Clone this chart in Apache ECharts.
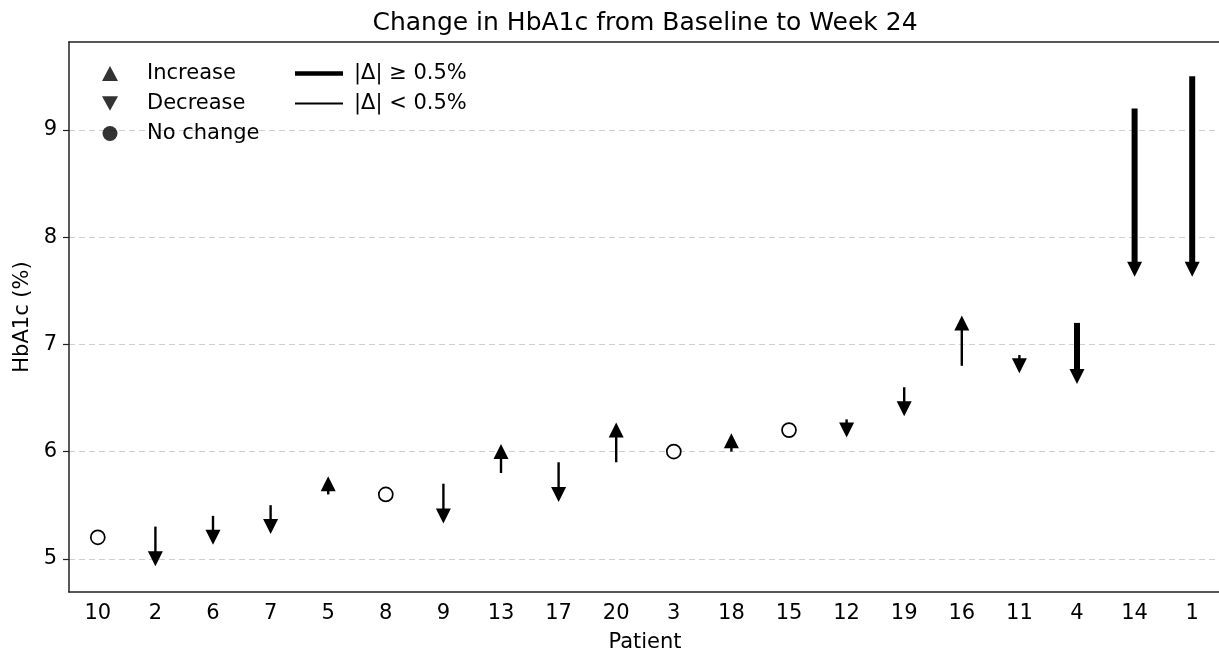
<!DOCTYPE html>
<html>
<head>
<meta charset="utf-8">
<script src="https://cdn.jsdelivr.net/npm/echarts@6/dist/echarts.min.js"></script>
<style>
  html, body { margin: 0; padding: 0; background: #fff; }
  #chart { width: 1219px; height: 654px; }
</style>
</head>
<body>
<div id="chart"></div>
<script>
// ---- data ----
const patients = ['10','2','6','7','5','8','9','13','17','20','3','18','15','12','19','16','11','4','14','1'];
const baseline = [5.2,5.3,5.4,5.5,5.6,5.6,5.7,5.8,5.9,5.9,6.0,6.0,6.2,6.3,6.6,6.8,6.9,7.2,9.2,9.5];
const week24   = [5.2,5.0,5.2,5.3,5.7,5.6,5.4,6.0,5.6,6.2,6.0,6.1,6.2,6.2,6.4,7.2,6.8,6.7,7.7,7.7];
const yTicks = [5, 6, 7, 8, 9];
const threshold = 0.5;

const FONT = 'DejaVu Sans';
const chart = echarts.init(document.getElementById('chart'), null, { renderer: 'canvas' });

const arrowData = patients.map((p, i) => [i, baseline[i], week24[i]]);
const downTri = 'path://M0,0 L2,0 L1,1.8 Z';

const option = {
  backgroundColor: '#ffffff',
  animation: false,
  title: {
    text: 'Change in HbA1c from Baseline to Week 24',
    left: 645, textAlign: 'center', top: 11, padding: 0,
    textStyle: { fontFamily: FONT, fontSize: 25, fontWeight: 'normal', color: '#000' }
  },
  grid: {
    left: 69, width: 1152, top: 42, bottom: 62,
    outerBoundsMode: 'none', containLabel: false, show: false
  },
  legend: [
    {
      orient: 'vertical', left: 102, top: 63, padding: 0, itemWidth: 16, itemHeight: 15, itemGap: 9,
      textStyle: { fontFamily: FONT, fontSize: 21, color: '#000', padding: [0, 0, 0, 24] },
      selectedMode: false,
      data: ['Increase', 'Decrease', 'No change']
    },
    {
      orient: 'vertical', left: 295, top: 63, padding: 0, itemWidth: 48, itemHeight: 15, itemGap: 9,
      symbolKeepAspect: true,
      textStyle: { fontFamily: FONT, fontSize: 21, color: '#000', padding: [0, 0, 0, 6] },
      selectedMode: false,
      data: [
        { name: '|Δ| ≥ 0.5%', icon: 'path://M0,0L100,0L100,9.4L0,9.4Z', itemStyle: { color: '#000' } },
        { name: '|Δ| < 0.5%', icon: 'path://M0,0L100,0L100,3.75L0,3.75Z', itemStyle: { color: '#000' } }
      ]
    }
  ],
  xAxis: [
    {
      type: 'category', data: patients, boundaryGap: true,
      name: 'Patient', nameLocation: 'middle', nameGap: 40,
      nameTextStyle: { fontFamily: FONT, fontSize: 21, color: '#000' },
      axisLine: { lineStyle: { color: '#222', width: 1.5 } },
      axisTick: { alignWithLabel: true, length: 6, lineStyle: { color: '#222', width: 1.2 } },
      axisLabel: { fontFamily: FONT, fontSize: 21, color: '#000', margin: 11, interval: 0 },
      splitLine: { show: false }
    },
    {
      type: 'category', data: patients, boundaryGap: true, position: 'top',
      axisLine: { show: true, lineStyle: { color: '#222', width: 1.5 } },
      axisTick: { show: false }, axisLabel: { show: false }, splitLine: { show: false }
    }
  ],
  yAxis: {
    type: 'value', min: 4.69, max: 9.82,
    name: 'HbA1c (%)', nameLocation: 'middle', nameGap: 35,
    nameTextStyle: { fontFamily: FONT, fontSize: 21, color: '#000' },
    axisLine: { show: true, lineStyle: { color: '#222', width: 1.5 } },
    axisTick: { show: true, length: 6, customValues: yTicks, lineStyle: { color: '#222', width: 1.2 } },
    axisLabel: { fontFamily: FONT, fontSize: 21, color: '#000', margin: 12, customValues: yTicks },
    splitLine: { show: true, lineStyle: { color: '#cfcfcf', width: 1, type: [6, 4] } }
  },
  series: [
    {
      type: 'custom', name: 'arrows', data: arrowData,
      encode: { x: 0, y: [1, 2] }, clip: false, z: 5,
      renderItem: function (params, api) {
        const i = api.value(0), b = api.value(1), e = api.value(2);
        const p0 = api.coord([i, b]);
        const p1 = api.coord([i, e]);
        if (Math.abs(e - b) < 1e-9) {
          return { type: 'circle', shape: { cx: p1[0], cy: p1[1], r: 7 },
                   style: { fill: '#fff', stroke: '#000', lineWidth: 1.7 } };
        }
        const w = Math.abs(e - b) >= threshold - 1e-9 ? 6 : 2.4;
        const dir = e > b ? -1 : 1;
        const h = 15, hw = 7.5;
        const tipY = p1[1] + dir * h / 2;
        const baseY = p1[1] - dir * h / 2;
        return {
          type: 'group',
          children: [
            { type: 'line', shape: { x1: p0[0], y1: p0[1], x2: p1[0], y2: p1[1] },
              style: { stroke: '#000', lineWidth: w } },
            { type: 'polygon', shape: { points: [[p1[0], tipY], [p1[0] - hw, baseY], [p1[0] + hw, baseY]] },
              style: { fill: '#000' } }
          ]
        };
      }
    },
    { type: 'scatter', name: 'Increase', data: [], symbol: 'triangle', itemStyle: { color: '#000' } },
    { type: 'scatter', name: 'Decrease', data: [], symbol: downTri, itemStyle: { color: '#000' } },
    { type: 'scatter', name: 'No change', data: [], symbol: 'circle', itemStyle: { color: '#000' } },
    { type: 'line', name: '|Δ| ≥ 0.5%', data: [], symbol: 'none', lineStyle: { width: 4.5, color: '#000' }, itemStyle: { color: '#000' } },
    { type: 'line', name: '|Δ| < 0.5%', data: [], symbol: 'none', lineStyle: { width: 1.8, color: '#000' }, itemStyle: { color: '#000' } }
  ]
};
chart.setOption(option);
</script>
</body>
</html>
